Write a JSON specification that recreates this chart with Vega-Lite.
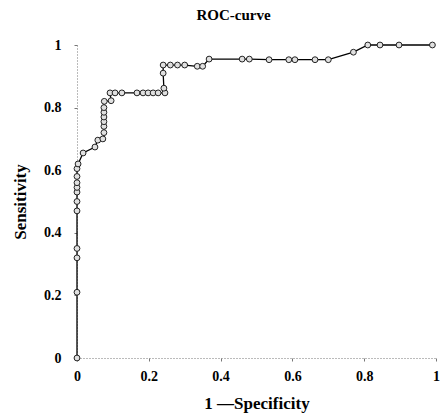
{
  "$schema": "https://vega.github.io/schema/vega-lite/v6.json",
  "width": 359,
  "height": 313,
  "autosize": "none",
  "padding": {"left": 77, "top": 45, "right": 6, "bottom": 56},
  "background": "white",
  "title": {
    "text": "ROC-curve",
    "font": "Liberation Serif",
    "fontSize": 15,
    "fontWeight": "bold",
    "color": "black",
    "anchor": "middle",
    "dx": -23,
    "offset": 15
  },
  "config": {
    "view": {"stroke": null},
    "axis": {
      "grid": false,
      "domainColor": "#777",
      "domainDash": [1, 2],
      "domainWidth": 1,
      "tickColor": "#777",
      "tickSize": 3,
      "labelFont": "Liberation Serif",
      "labelFontWeight": "bold",
      "labelFontSize": 14,
      "labelColor": "black",
      "titleFont": "Liberation Serif",
      "titleFontWeight": "bold",
      "titleFontSize": 17,
      "titleColor": "black"
    }
  },
  "data": {
    "values": [
      {"o": 1, "fpr": 0, "tpr": 0},
      {"o": 2, "fpr": 0, "tpr": 0.21},
      {"o": 3, "fpr": 0, "tpr": 0.32},
      {"o": 4, "fpr": 0, "tpr": 0.35},
      {"o": 5, "fpr": 0, "tpr": 0.47},
      {"o": 6, "fpr": 0, "tpr": 0.5},
      {"o": 7, "fpr": 0, "tpr": 0.53},
      {"o": 8, "fpr": 0, "tpr": 0.545},
      {"o": 9, "fpr": 0, "tpr": 0.56},
      {"o": 10, "fpr": 0, "tpr": 0.58},
      {"o": 11, "fpr": 0, "tpr": 0.605},
      {"o": 12, "fpr": 0.003, "tpr": 0.62},
      {"o": 13, "fpr": 0.017, "tpr": 0.655},
      {"o": 14, "fpr": 0.05, "tpr": 0.674},
      {"o": 15, "fpr": 0.058, "tpr": 0.696},
      {"o": 16, "fpr": 0.072, "tpr": 0.7},
      {"o": 17, "fpr": 0.075, "tpr": 0.72},
      {"o": 18, "fpr": 0.075, "tpr": 0.74},
      {"o": 19, "fpr": 0.075, "tpr": 0.755},
      {"o": 20, "fpr": 0.075, "tpr": 0.77},
      {"o": 21, "fpr": 0.075, "tpr": 0.785},
      {"o": 22, "fpr": 0.075, "tpr": 0.8},
      {"o": 23, "fpr": 0.076, "tpr": 0.82},
      {"o": 24, "fpr": 0.095, "tpr": 0.822},
      {"o": 25, "fpr": 0.092, "tpr": 0.847},
      {"o": 26, "fpr": 0.106, "tpr": 0.847},
      {"o": 27, "fpr": 0.125, "tpr": 0.847},
      {"o": 28, "fpr": 0.167, "tpr": 0.847},
      {"o": 29, "fpr": 0.184, "tpr": 0.847},
      {"o": 30, "fpr": 0.198, "tpr": 0.847},
      {"o": 31, "fpr": 0.212, "tpr": 0.847},
      {"o": 32, "fpr": 0.226, "tpr": 0.847},
      {"o": 33, "fpr": 0.245, "tpr": 0.847},
      {"o": 34, "fpr": 0.242, "tpr": 0.862},
      {"o": 35, "fpr": 0.24, "tpr": 0.91},
      {"o": 36, "fpr": 0.24, "tpr": 0.936},
      {"o": 37, "fpr": 0.26, "tpr": 0.936},
      {"o": 38, "fpr": 0.28, "tpr": 0.936},
      {"o": 39, "fpr": 0.3, "tpr": 0.936},
      {"o": 40, "fpr": 0.335, "tpr": 0.932},
      {"o": 41, "fpr": 0.35, "tpr": 0.932},
      {"o": 42, "fpr": 0.368, "tpr": 0.955},
      {"o": 43, "fpr": 0.46, "tpr": 0.955},
      {"o": 44, "fpr": 0.48, "tpr": 0.955},
      {"o": 45, "fpr": 0.535, "tpr": 0.953},
      {"o": 46, "fpr": 0.59, "tpr": 0.953},
      {"o": 47, "fpr": 0.607, "tpr": 0.953},
      {"o": 48, "fpr": 0.663, "tpr": 0.953},
      {"o": 49, "fpr": 0.7, "tpr": 0.953},
      {"o": 50, "fpr": 0.77, "tpr": 0.977},
      {"o": 51, "fpr": 0.81, "tpr": 1.0},
      {"o": 52, "fpr": 0.844, "tpr": 1.0},
      {"o": 53, "fpr": 0.897, "tpr": 1.0},
      {"o": 54, "fpr": 0.99, "tpr": 1.0}
    ]
  },
  "encoding": {
    "x": {
      "field": "fpr",
      "type": "quantitative",
      "scale": {"domain": [0, 1], "nice": false},
      "axis": {
        "title": "1 —Specificity",
        "values": [0, 0.2, 0.4, 0.6, 0.8, 1],
        "format": "~g",
        "labelPadding": 8,
        "titlePadding": 12,
        "labelFlush": false
      }
    },
    "y": {
      "field": "tpr",
      "type": "quantitative",
      "scale": {"domain": [0, 1], "nice": false},
      "axis": {
        "title": "Sensitivity",
        "values": [0, 0.2, 0.4, 0.6, 0.8, 1],
        "format": "~g",
        "labelPadding": 13,
        "titlePadding": 14,
        "labelFlush": false
      }
    },
    "order": {"field": "o", "type": "quantitative"}
  },
  "layer": [
    {"mark": {"type": "line", "color": "black", "strokeWidth": 1.3}},
    {"mark": {"type": "point", "shape": "circle", "size": 34, "filled": true, "fill": "#e0e0e0", "stroke": "#222", "strokeWidth": 1, "opacity": 1}}
  ]
}
